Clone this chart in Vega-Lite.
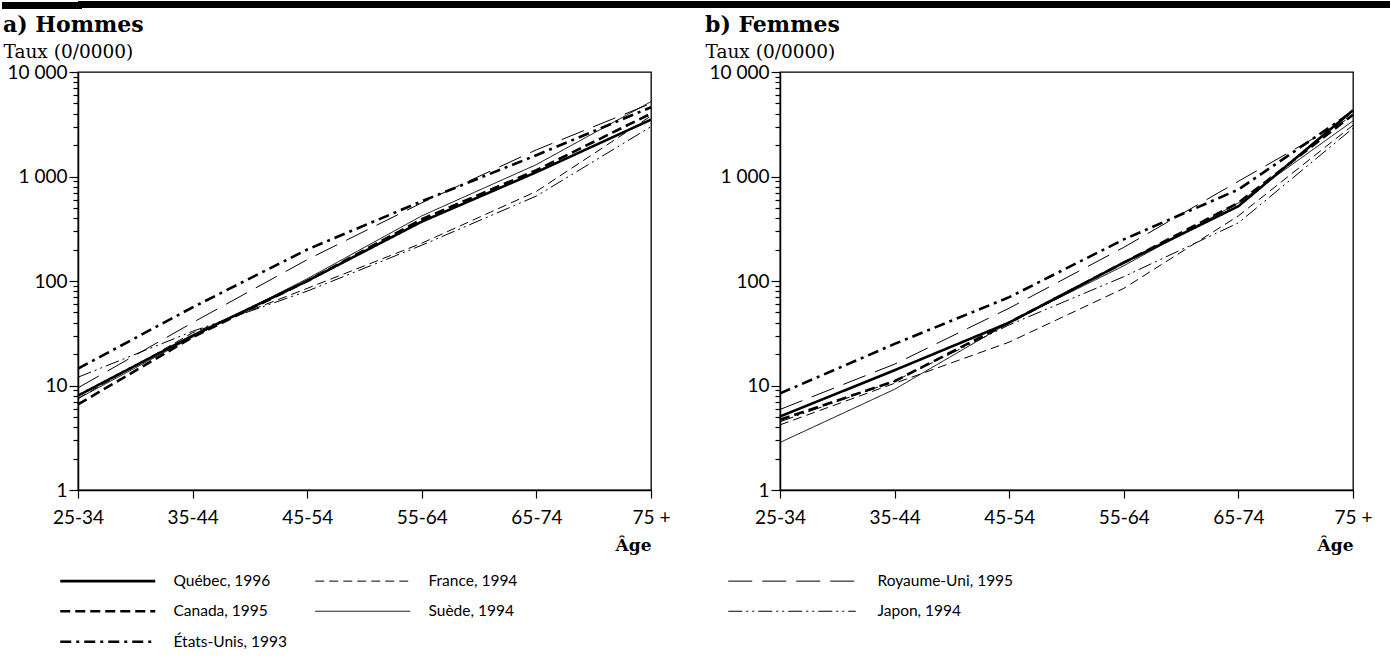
{
  "$schema": "https://vega.github.io/schema/vega-lite/v6.json",
  "padding": 0,
  "background": "white",
  "config": {
    "font": "Lato",
    "view": {"stroke": "black", "strokeWidth": 1.3},
    "axis": {"domainColor": "black", "domainWidth": 1.5, "tickColor": "black", "tickWidth": 1.2, "labelColor": "black", "titleColor": "black", "grid": false, "labelFont": "Lato", "labelFontSize": 19, "labelFontWeight": "normal"},
    "line": {"color": "black"}
  },
  "datasets": {
    "d": [
      {"sexe": "Hommes", "pays": "Québec, 1996", "age": "25-34", "taux": 8},
      {"sexe": "Hommes", "pays": "Québec, 1996", "age": "35-44", "taux": 30},
      {"sexe": "Hommes", "pays": "Québec, 1996", "age": "45-54", "taux": 100},
      {"sexe": "Hommes", "pays": "Québec, 1996", "age": "55-64", "taux": 370},
      {"sexe": "Hommes", "pays": "Québec, 1996", "age": "65-74", "taux": 1100},
      {"sexe": "Hommes", "pays": "Québec, 1996", "age": "75 +", "taux": 3500},
      {"sexe": "Hommes", "pays": "Canada, 1995", "age": "25-34", "taux": 6.6},
      {"sexe": "Hommes", "pays": "Canada, 1995", "age": "35-44", "taux": 29},
      {"sexe": "Hommes", "pays": "Canada, 1995", "age": "45-54", "taux": 100},
      {"sexe": "Hommes", "pays": "Canada, 1995", "age": "55-64", "taux": 390},
      {"sexe": "Hommes", "pays": "Canada, 1995", "age": "65-74", "taux": 1150},
      {"sexe": "Hommes", "pays": "Canada, 1995", "age": "75 +", "taux": 4000},
      {"sexe": "Hommes", "pays": "États-Unis, 1993", "age": "25-34", "taux": 14.5},
      {"sexe": "Hommes", "pays": "États-Unis, 1993", "age": "35-44", "taux": 56},
      {"sexe": "Hommes", "pays": "États-Unis, 1993", "age": "45-54", "taux": 200},
      {"sexe": "Hommes", "pays": "États-Unis, 1993", "age": "55-64", "taux": 580},
      {"sexe": "Hommes", "pays": "États-Unis, 1993", "age": "65-74", "taux": 1600},
      {"sexe": "Hommes", "pays": "États-Unis, 1993", "age": "75 +", "taux": 4600},
      {"sexe": "Hommes", "pays": "France, 1994", "age": "25-34", "taux": 7.5},
      {"sexe": "Hommes", "pays": "France, 1994", "age": "35-44", "taux": 32},
      {"sexe": "Hommes", "pays": "France, 1994", "age": "45-54", "taux": 85},
      {"sexe": "Hommes", "pays": "France, 1994", "age": "55-64", "taux": 230},
      {"sexe": "Hommes", "pays": "France, 1994", "age": "65-74", "taux": 720},
      {"sexe": "Hommes", "pays": "France, 1994", "age": "75 +", "taux": 3800},
      {"sexe": "Hommes", "pays": "Suède, 1994", "age": "25-34", "taux": 7.5},
      {"sexe": "Hommes", "pays": "Suède, 1994", "age": "35-44", "taux": 29},
      {"sexe": "Hommes", "pays": "Suède, 1994", "age": "45-54", "taux": 105},
      {"sexe": "Hommes", "pays": "Suède, 1994", "age": "55-64", "taux": 420},
      {"sexe": "Hommes", "pays": "Suède, 1994", "age": "65-74", "taux": 1300},
      {"sexe": "Hommes", "pays": "Suède, 1994", "age": "75 +", "taux": 5200},
      {"sexe": "Hommes", "pays": "Royaume-Uni, 1995", "age": "25-34", "taux": 9.5},
      {"sexe": "Hommes", "pays": "Royaume-Uni, 1995", "age": "35-44", "taux": 40},
      {"sexe": "Hommes", "pays": "Royaume-Uni, 1995", "age": "45-54", "taux": 160},
      {"sexe": "Hommes", "pays": "Royaume-Uni, 1995", "age": "55-64", "taux": 560},
      {"sexe": "Hommes", "pays": "Royaume-Uni, 1995", "age": "65-74", "taux": 1800},
      {"sexe": "Hommes", "pays": "Royaume-Uni, 1995", "age": "75 +", "taux": 5000},
      {"sexe": "Hommes", "pays": "Japon, 1994", "age": "25-34", "taux": 12},
      {"sexe": "Hommes", "pays": "Japon, 1994", "age": "35-44", "taux": 33},
      {"sexe": "Hommes", "pays": "Japon, 1994", "age": "45-54", "taux": 80},
      {"sexe": "Hommes", "pays": "Japon, 1994", "age": "55-64", "taux": 220},
      {"sexe": "Hommes", "pays": "Japon, 1994", "age": "65-74", "taux": 650},
      {"sexe": "Hommes", "pays": "Japon, 1994", "age": "75 +", "taux": 3000},
      {"sexe": "Femmes", "pays": "Québec, 1996", "age": "25-34", "taux": 5.05},
      {"sexe": "Femmes", "pays": "Québec, 1996", "age": "35-44", "taux": 14},
      {"sexe": "Femmes", "pays": "Québec, 1996", "age": "45-54", "taux": 40},
      {"sexe": "Femmes", "pays": "Québec, 1996", "age": "55-64", "taux": 150},
      {"sexe": "Femmes", "pays": "Québec, 1996", "age": "65-74", "taux": 520},
      {"sexe": "Femmes", "pays": "Québec, 1996", "age": "75 +", "taux": 4300},
      {"sexe": "Femmes", "pays": "Canada, 1995", "age": "25-34", "taux": 4.7},
      {"sexe": "Femmes", "pays": "Canada, 1995", "age": "35-44", "taux": 11},
      {"sexe": "Femmes", "pays": "Canada, 1995", "age": "45-54", "taux": 40},
      {"sexe": "Femmes", "pays": "Canada, 1995", "age": "55-64", "taux": 150},
      {"sexe": "Femmes", "pays": "Canada, 1995", "age": "65-74", "taux": 560},
      {"sexe": "Femmes", "pays": "Canada, 1995", "age": "75 +", "taux": 3900},
      {"sexe": "Femmes", "pays": "États-Unis, 1993", "age": "25-34", "taux": 8.4},
      {"sexe": "Femmes", "pays": "États-Unis, 1993", "age": "35-44", "taux": 25},
      {"sexe": "Femmes", "pays": "États-Unis, 1993", "age": "45-54", "taux": 70},
      {"sexe": "Femmes", "pays": "États-Unis, 1993", "age": "55-64", "taux": 250},
      {"sexe": "Femmes", "pays": "États-Unis, 1993", "age": "65-74", "taux": 750},
      {"sexe": "Femmes", "pays": "États-Unis, 1993", "age": "75 +", "taux": 4200},
      {"sexe": "Femmes", "pays": "France, 1994", "age": "25-34", "taux": 4.2},
      {"sexe": "Femmes", "pays": "France, 1994", "age": "35-44", "taux": 10.5},
      {"sexe": "Femmes", "pays": "France, 1994", "age": "45-54", "taux": 26},
      {"sexe": "Femmes", "pays": "France, 1994", "age": "55-64", "taux": 85},
      {"sexe": "Femmes", "pays": "France, 1994", "age": "65-74", "taux": 420},
      {"sexe": "Femmes", "pays": "France, 1994", "age": "75 +", "taux": 3100},
      {"sexe": "Femmes", "pays": "Suède, 1994", "age": "25-34", "taux": 2.85},
      {"sexe": "Femmes", "pays": "Suède, 1994", "age": "35-44", "taux": 9.2},
      {"sexe": "Femmes", "pays": "Suède, 1994", "age": "45-54", "taux": 40},
      {"sexe": "Femmes", "pays": "Suède, 1994", "age": "55-64", "taux": 140},
      {"sexe": "Femmes", "pays": "Suède, 1994", "age": "65-74", "taux": 560},
      {"sexe": "Femmes", "pays": "Suède, 1994", "age": "75 +", "taux": 3400},
      {"sexe": "Femmes", "pays": "Royaume-Uni, 1995", "age": "25-34", "taux": 5.9},
      {"sexe": "Femmes", "pays": "Royaume-Uni, 1995", "age": "35-44", "taux": 16},
      {"sexe": "Femmes", "pays": "Royaume-Uni, 1995", "age": "45-54", "taux": 55},
      {"sexe": "Femmes", "pays": "Royaume-Uni, 1995", "age": "55-64", "taux": 210},
      {"sexe": "Femmes", "pays": "Royaume-Uni, 1995", "age": "65-74", "taux": 900},
      {"sexe": "Femmes", "pays": "Royaume-Uni, 1995", "age": "75 +", "taux": 3800},
      {"sexe": "Femmes", "pays": "Japon, 1994", "age": "25-34", "taux": 4.5},
      {"sexe": "Femmes", "pays": "Japon, 1994", "age": "35-44", "taux": 11},
      {"sexe": "Femmes", "pays": "Japon, 1994", "age": "45-54", "taux": 38},
      {"sexe": "Femmes", "pays": "Japon, 1994", "age": "55-64", "taux": 110},
      {"sexe": "Femmes", "pays": "Japon, 1994", "age": "65-74", "taux": 360},
      {"sexe": "Femmes", "pays": "Japon, 1994", "age": "75 +", "taux": 2900}
    ]
  },
  "columns": 1,
  "align": "none",
  "spacing": 3,
  "concat": [
    {
      "data": {"values": [{}]},
      "width": 1313,
      "height": 7,
      "view": {"fill": "black", "stroke": null},
      "mark": {"type": "point", "opacity": 0},
      "encoding": {
        "y": {"datum": 0.5, "type": "quantitative", "scale": {"domain": [0, 1]},
          "axis": {"values": [0.5], "tickSize": 73, "tickWidth": 7, "tickCap": "square", "tickColor": "black", "labels": false, "domain": false, "title": null, "grid": false}}
      }
    },
    {
      "data": {"name": "d"},
      "spacing": 33,
      "hconcat": [
        {
          "width": 573,
          "height": 418,
          "title": {"text": "a) Hommes", "anchor": "start", "frame": "bounds", "font": "DejaVu Serif", "fontSize": 22, "fontWeight": "bold", "color": "black", "offset": 5},
          "transform": [{"filter": "datum.sexe === 'Hommes'"}],
          "mark": {"type": "line", "color": "black"},
          "encoding": {
            "x": {"field": "age", "type": "ordinal", "sort": ["25-34", "35-44", "45-54", "55-64", "65-74", "75 +"], "scale": {"type": "point", "padding": 0},
              "axis": {"title": "Âge", "labelAngle": 0, "tickSize": 8, "labelPadding": 10, "titleAnchor": "end", "titleFont": "DejaVu Serif", "titleFontWeight": "bold", "titleFontSize": 17, "titlePadding": 10}},
            "y": {"field": "taux", "type": "quantitative", "scale": {"type": "log", "domain": [1, 10000]},
              "axis": {"title": "Taux (0/0000)", "titleAngle": 0, "titleAlign": "left", "titleBaseline": "alphabetic", "titleX": -75, "titleY": -15, "titleFont": "DejaVu Serif", "titleFontSize": 18.5, "titleFontWeight": "normal",
                "values": [1, 2, 3, 4, 5, 6, 7, 8, 9, 10, 20, 30, 40, 50, 60, 70, 80, 90, 100, 200, 300, 400, 500, 600, 700, 800, 900, 1000, 2000, 3000, 4000, 5000, 6000, 7000, 8000, 9000, 10000],
                "labelExpr": "indexof([1, 10, 100, 1000, 10000], datum.value) >= 0 ? replace(format(datum.value, ','), ',', ' ') : ''",
                "tickSize": {"condition": {"test": "indexof([1, 10, 100, 1000, 10000], datum.value) >= 0", "value": 9}, "value": 5},
                "labelPadding": 2, "labelOverlap": false, "labelFlush": false}},
            "strokeDash": {"field": "pays", "type": "nominal",
              "scale": {"domain": ["Québec, 1996", "France, 1994", "Royaume-Uni, 1995", "Canada, 1995", "Suède, 1994", "Japon, 1994", "États-Unis, 1993"],
                "range": [[1, 0], [9, 5], [24, 10], [10, 5], [1, 0], [14, 4, 2, 4, 2, 4], [11, 5, 3, 5]]},
              "legend": {"title": null, "orient": "none", "legendX": 22, "legendY": 572, "columns": 3, "direction": "horizontal", "symbolType": "M-9.5,0H9.5", "symbolSize": 100, "symbolStrokeColor": "black", "symbolStrokeWidth": 1, "labelOffset": 58, "labelFont": "Lato", "labelFontSize": 15.5, "labelColor": "black", "rowPadding": 13.5, "columnPadding": 26, "labelLimit": 500,
                "labelExpr": "datum.label == 'France, 1994' ? datum.label + '\u00a0\u00a0\u00a0\u00a0\u00a0\u00a0\u00a0\u00a0\u00a0\u00a0\u00a0\u00a0\u00a0\u00a0\u00a0\u00a0\u00a0\u00a0\u00a0\u00a0\u00a0\u00a0\u00a0\u00a0\u00a0\u00a0\u00a0\u00a0\u00a0\u00a0\u00a0\u00a0\u00a0\u00a0\u00a0\u00a0\u00a0\u00a0\u00a0\u00a0\u00a0\u00a0\u00a0\u00a0\u00a0\u00a0\u200b' : datum.label",
                "encode": {
                  "symbols": {"update": {
                    "strokeWidth": {"signal": "indexof(['Québec, 1996', 'Canada, 1995', 'États-Unis, 1993'], datum.value) >= 0 ? 2.6 : 1"},
                    "shape": {"signal": "indexof(['Royaume-Uni, 1995', 'Japon, 1994'], datum.value) >= 0 ? 'M-9.5,0H16' : 'M-9.5,0H9.5'"}}},
                  "labels": {"update": {"dx": {"signal": "indexof(['Royaume-Uni, 1995', 'Japon, 1994'], datum.value) >= 0 ? 36 : 0"}}}
                }}},
            "strokeWidth": {"condition": {"test": "indexof(['Québec, 1996', 'Canada, 1995', 'États-Unis, 1993'], datum.pays) >= 0", "value": 2.6}, "value": 1}
          }
        },
        {
          "width": 573,
          "height": 418,
          "title": {"text": "b) Femmes", "anchor": "start", "frame": "bounds", "font": "DejaVu Serif", "fontSize": 22, "fontWeight": "bold", "color": "black", "offset": 5},
          "transform": [{"filter": "datum.sexe === 'Femmes'"}],
          "mark": {"type": "line", "color": "black"},
          "encoding": {
            "x": {"field": "age", "type": "ordinal", "sort": ["25-34", "35-44", "45-54", "55-64", "65-74", "75 +"], "scale": {"type": "point", "padding": 0},
              "axis": {"title": "Âge", "labelAngle": 0, "tickSize": 8, "labelPadding": 10, "titleAnchor": "end", "titleFont": "DejaVu Serif", "titleFontWeight": "bold", "titleFontSize": 17, "titlePadding": 10}},
            "y": {"field": "taux", "type": "quantitative", "scale": {"type": "log", "domain": [1, 10000]},
              "axis": {"title": "Taux (0/0000)", "titleAngle": 0, "titleAlign": "left", "titleBaseline": "alphabetic", "titleX": -75, "titleY": -15, "titleFont": "DejaVu Serif", "titleFontSize": 18.5, "titleFontWeight": "normal",
                "values": [1, 2, 3, 4, 5, 6, 7, 8, 9, 10, 20, 30, 40, 50, 60, 70, 80, 90, 100, 200, 300, 400, 500, 600, 700, 800, 900, 1000, 2000, 3000, 4000, 5000, 6000, 7000, 8000, 9000, 10000],
                "labelExpr": "indexof([1, 10, 100, 1000, 10000], datum.value) >= 0 ? replace(format(datum.value, ','), ',', ' ') : ''",
                "tickSize": {"condition": {"test": "indexof([1, 10, 100, 1000, 10000], datum.value) >= 0", "value": 9}, "value": 5},
                "labelPadding": 2, "labelOverlap": false, "labelFlush": false}},
            "strokeDash": {"field": "pays", "type": "nominal",
              "scale": {"domain": ["Québec, 1996", "France, 1994", "Royaume-Uni, 1995", "Canada, 1995", "Suède, 1994", "Japon, 1994", "États-Unis, 1993"],
                "range": [[1, 0], [9, 5], [24, 10], [10, 5], [1, 0], [14, 4, 2, 4, 2, 4], [11, 5, 3, 5]]}},
            "strokeWidth": {"condition": {"test": "indexof(['Québec, 1996', 'Canada, 1995', 'États-Unis, 1993'], datum.pays) >= 0", "value": 2.6}, "value": 1}
          }
        }
      ]
    }
  ]
}
